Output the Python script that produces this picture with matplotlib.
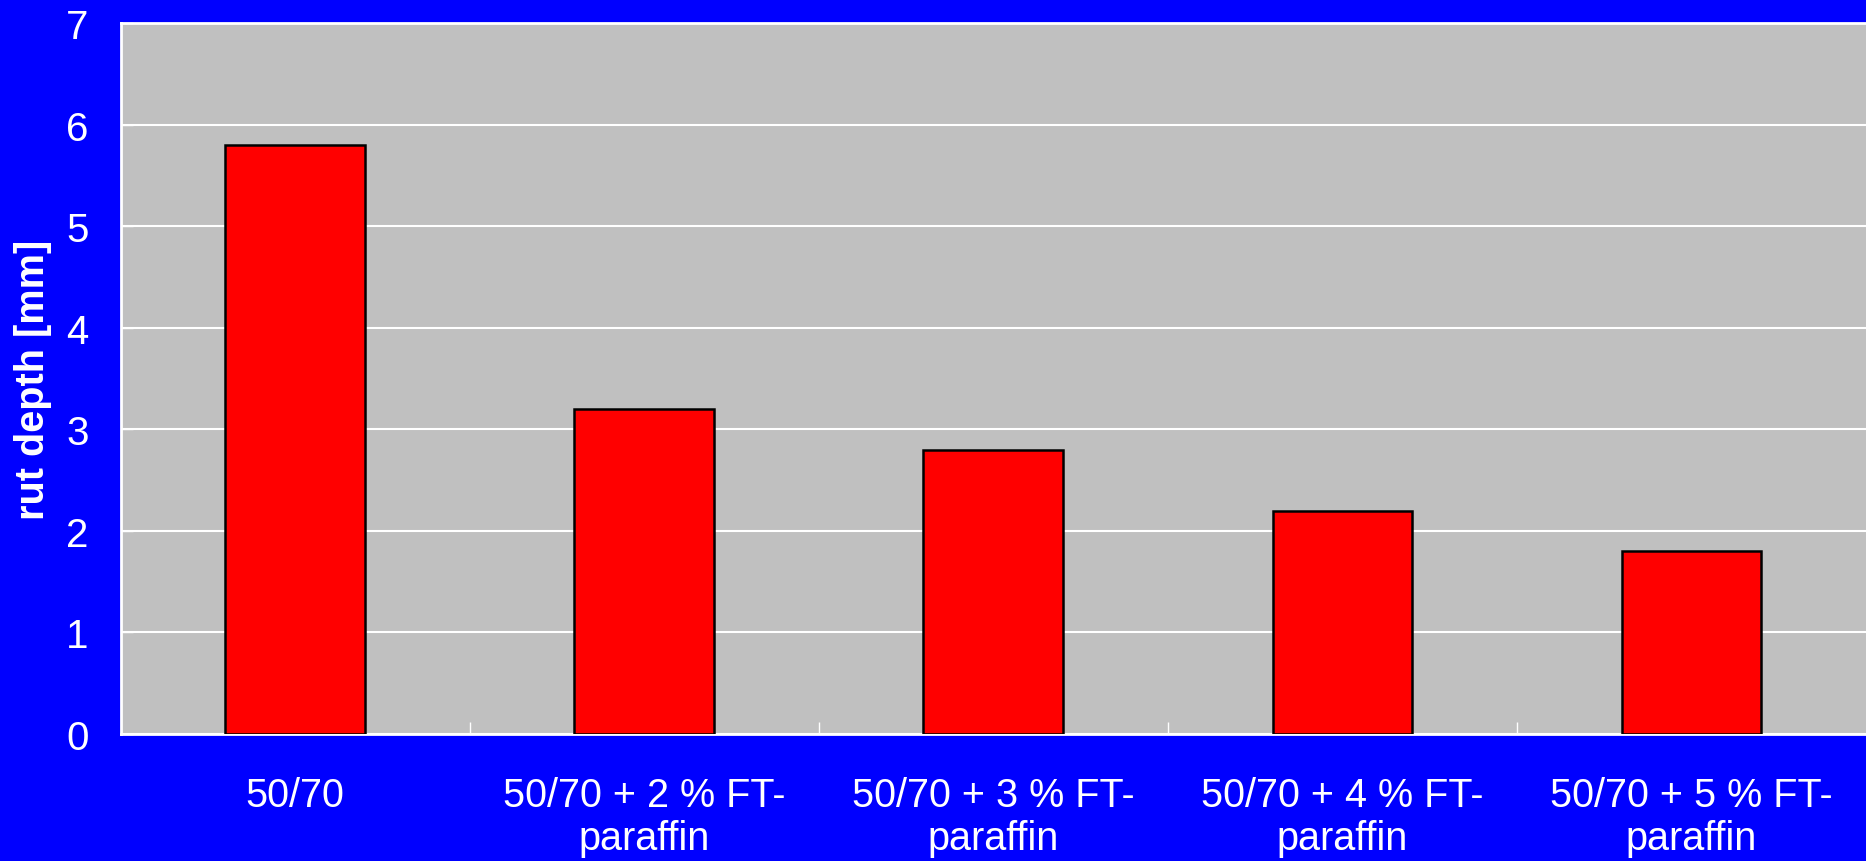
import matplotlib.pyplot as plt

# rut depth per binder variant
labels = ['50/70', '50/70 + 2 % FT-\nparaffin', '50/70 + 3 % FT-\nparaffin',
          '50/70 + 4 % FT-\nparaffin', '50/70 + 5 % FT-\nparaffin']
rut_depth = [5.8, 3.2, 2.8, 2.2, 1.8]
y_ticks = [0, 1, 2, 3, 4, 5, 6, 7]

plt.rcParams['font.family'] = ['Liberation Sans', 'DejaVu Sans']

fig = plt.figure(figsize=(18.66, 8.62), dpi=100, facecolor='#0000ff')
ax = fig.add_axes([120.5 / 1866, 1 - 735 / 862, 1 - 120.5 / 1866, 711 / 862])
ax.set_facecolor('#c0c0c0')

x = range(len(labels))
ax.bar(x, rut_depth, width=0.4, color='#ff0000', edgecolor='black',
       linewidth=1.8, zorder=3)

ax.set_xlim(-0.5, len(labels) - 0.5)
ax.set_ylim(0, 7)
ax.set_yticks(y_ticks)
ax.yaxis.grid(True, color='white', linewidth=1.5, zorder=1)

# labels under bars, ticks between categories
ax.set_xticks(list(x))
ax.set_xticklabels(labels, color='white', fontsize=28.5, linespacing=1.17)
ax.tick_params(axis='x', which='major', length=0, pad=30)
ax.set_xticks([i + 0.5 for i in range(len(labels) - 1)], minor=True)
ax.tick_params(axis='x', which='minor', direction='in', length=8.5,
               color='white', width=1)
ax.tick_params(axis='y', direction='in', length=8.5, color='white', width=1,
               labelcolor='white', labelsize=29, pad=23)

ax.set_ylabel('rut depth [mm]', color='white', fontsize=28.5, fontweight='bold',
              labelpad=10)

for side in ['left', 'top', 'bottom']:
    ax.spines[side].set_color('white')
    ax.spines[side].set_linewidth(2)
ax.spines['right'].set_visible(False)

fig.savefig('out.png', dpi=100, facecolor=fig.get_facecolor())
